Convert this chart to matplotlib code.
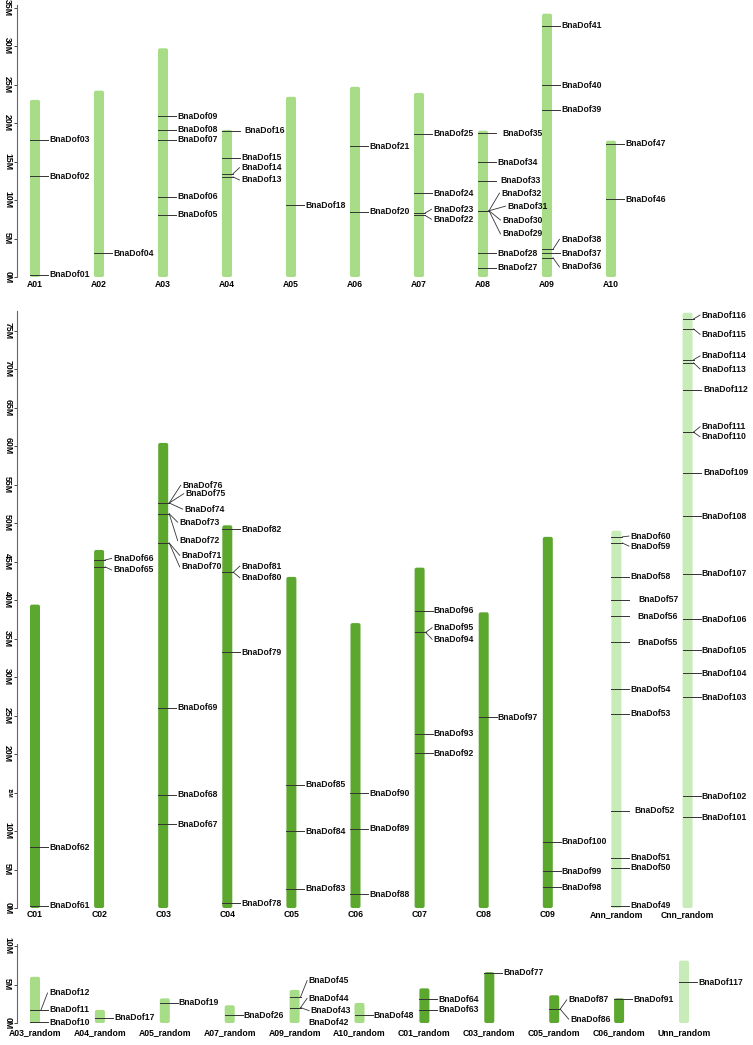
import numpy as np
import matplotlib.pyplot as plt
from matplotlib.patches import FancyBboxPatch

plt.rcParams['font.family'] = ['Liberation Sans', 'DejaVu Sans']

# ---------------- data (positions in Mb) ----------------
top_chroms = ["A01", "A02", "A03", "A04", "A05", "A06", "A07", "A08", "A09", "A10"]
top_lengths = [23.0, 24.2, 29.7, 19.1, 23.4, 24.7, 23.9, 19.0, 34.2, 17.7]
top_genes = [
    ("BnaDof01", "A01", 0.3), ("BnaDof02", "A01", 13.1), ("BnaDof03", "A01", 17.8),
    ("BnaDof04", "A02", 3.1),
    ("BnaDof05", "A03", 8.1), ("BnaDof06", "A03", 10.4), ("BnaDof07", "A03", 17.8),
    ("BnaDof08", "A03", 19.1), ("BnaDof09", "A03", 20.9),
    ("BnaDof13", "A04", 13.0), ("BnaDof14", "A04", 13.4), ("BnaDof15", "A04", 15.5),
    ("BnaDof16", "A04", 19.0),
    ("BnaDof18", "A05", 9.35),
    ("BnaDof20", "A06", 8.5), ("BnaDof21", "A06", 17.0),
    ("BnaDof22", "A07", 8.0), ("BnaDof23", "A07", 8.3), ("BnaDof24", "A07", 10.9),
    ("BnaDof25", "A07", 18.6),
    ("BnaDof27", "A08", 1.2), ("BnaDof28", "A08", 3.1), ("BnaDof29", "A08", 8.6),
    ("BnaDof30", "A08", 8.6), ("BnaDof31", "A08", 8.6), ("BnaDof32", "A08", 8.6),
    ("BnaDof33", "A08", 12.5), ("BnaDof34", "A08", 14.9), ("BnaDof35", "A08", 18.7),
    ("BnaDof36", "A09", 2.5), ("BnaDof37", "A09", 3.1), ("BnaDof38", "A09", 3.6),
    ("BnaDof39", "A09", 21.7), ("BnaDof40", "A09", 24.9), ("BnaDof41", "A09", 32.6),
    ("BnaDof46", "A10", 10.1), ("BnaDof47", "A10", 17.3),
]

mid_chroms = ["C01", "C02", "C03", "C04", "C05", "C06", "C07", "C08", "C09",
              "Ann_random", "Cnn_random"]
mid_lengths = [39.4, 46.5, 60.4, 49.7, 43.0, 37.0, 44.2, 38.4, 48.2, 49.0, 77.3]
mid_genes = [
    ("BnaDof61", "C01", 0.3), ("BnaDof62", "C01", 7.9),
    ("BnaDof65", "C02", 44.3), ("BnaDof66", "C02", 45.2),
    ("BnaDof67", "C03", 10.9), ("BnaDof68", "C03", 14.7), ("BnaDof69", "C03", 26.0),
    ("BnaDof70", "C03", 47.4), ("BnaDof71", "C03", 47.4), ("BnaDof72", "C03", 51.2),
    ("BnaDof73", "C03", 51.2), ("BnaDof74", "C03", 52.6), ("BnaDof75", "C03", 52.6),
    ("BnaDof76", "C03", 52.6),
    ("BnaDof78", "C04", 0.6), ("BnaDof79", "C04", 33.2), ("BnaDof80", "C04", 43.6),
    ("BnaDof81", "C04", 43.6), ("BnaDof82", "C04", 49.2),
    ("BnaDof83", "C05", 2.5), ("BnaDof84", "C05", 10.0), ("BnaDof85", "C05", 16.0),
    ("BnaDof88", "C06", 1.8), ("BnaDof89", "C06", 10.3), ("BnaDof90", "C06", 14.9),
    ("BnaDof92", "C07", 20.1), ("BnaDof93", "C07", 22.6), ("BnaDof94", "C07", 35.8),
    ("BnaDof95", "C07", 35.8), ("BnaDof96", "C07", 38.6),
    ("BnaDof97", "C08", 24.8),
    ("BnaDof98", "C09", 2.7), ("BnaDof99", "C09", 4.8), ("BnaDof100", "C09", 8.6),
    ("BnaDof49", "Ann_random", 0.3), ("BnaDof50", "Ann_random", 5.2),
    ("BnaDof51", "Ann_random", 6.5), ("BnaDof52", "Ann_random", 12.6),
    ("BnaDof53", "Ann_random", 25.2), ("BnaDof54", "Ann_random", 28.4),
    ("BnaDof55", "Ann_random", 34.5), ("BnaDof56", "Ann_random", 37.9),
    ("BnaDof57", "Ann_random", 40.0), ("BnaDof58", "Ann_random", 43.0),
    ("BnaDof59", "Ann_random", 47.4), ("BnaDof60", "Ann_random", 48.2),
    ("BnaDof101", "Cnn_random", 11.8), ("BnaDof102", "Cnn_random", 14.5),
    ("BnaDof103", "Cnn_random", 27.4), ("BnaDof104", "Cnn_random", 30.5),
    ("BnaDof105", "Cnn_random", 33.5), ("BnaDof106", "Cnn_random", 37.5),
    ("BnaDof107", "Cnn_random", 43.4), ("BnaDof108", "Cnn_random", 50.9),
    ("BnaDof109", "Cnn_random", 56.5), ("BnaDof110", "Cnn_random", 61.8),
    ("BnaDof111", "Cnn_random", 61.8), ("BnaDof112", "Cnn_random", 67.3),
    ("BnaDof113", "Cnn_random", 70.8), ("BnaDof114", "Cnn_random", 71.2),
    ("BnaDof115", "Cnn_random", 75.2), ("BnaDof116", "Cnn_random", 76.5),
]

bot_chroms = ["A03_random", "A04_random", "A05_random", "A07_random", "A09_random",
              "A10_random", "C01_random", "C03_random", "C05_random", "C06_random",
              "Unn_random"]
bot_lengths = [6.0, 1.7, 3.2, 2.3, 4.3, 2.6, 4.5, 6.6, 3.6, 3.2, 8.1]
bot_genes = [
    ("BnaDof10", "A03_random", 0.1), ("BnaDof11", "A03_random", 1.7),
    ("BnaDof12", "A03_random", 1.7),
    ("BnaDof17", "A04_random", 0.7),
    ("BnaDof19", "A05_random", 2.6),
    ("BnaDof26", "A07_random", 1.0),
    ("BnaDof42", "A09_random", 0.05), ("BnaDof43", "A09_random", 2.0),
    ("BnaDof44", "A09_random", 2.0), ("BnaDof45", "A09_random", 3.4),
    ("BnaDof48", "A10_random", 1.0),
    ("BnaDof63", "C01_random", 1.7), ("BnaDof64", "C01_random", 3.1),
    ("BnaDof77", "C03_random", 6.5),
    ("BnaDof86", "C05_random", 1.8), ("BnaDof87", "C05_random", 1.8),
    ("BnaDof91", "C06_random", 3.1),
    ("BnaDof117", "Unn_random", 5.3),
]

# ---------------- label layout (spreading crowded labels) ----------------
label_y = {
    "BnaDof13": 12.6, "BnaDof14": 14.2, "BnaDof22": 7.5, "BnaDof23": 8.8,
    "BnaDof29": 5.6, "BnaDof30": 7.4, "BnaDof31": 9.2, "BnaDof32": 10.9,
    "BnaDof36": 1.3, "BnaDof37": 3.1, "BnaDof38": 4.9,
    "BnaDof65": 43.9, "BnaDof66": 45.4, "BnaDof59": 47.0, "BnaDof60": 48.3,
    "BnaDof70": 44.3, "BnaDof71": 45.8, "BnaDof72": 47.7, "BnaDof73": 50.1,
    "BnaDof74": 51.8, "BnaDof75": 53.8, "BnaDof76": 54.9,
    "BnaDof80": 42.9, "BnaDof81": 44.4, "BnaDof94": 34.9, "BnaDof95": 36.4,
    "BnaDof110": 61.2, "BnaDof111": 62.5, "BnaDof113": 70.0, "BnaDof114": 71.7,
    "BnaDof115": 74.5, "BnaDof116": 77.0,
    "BnaDof12": 3.9, "BnaDof43": 1.6, "BnaDof44": 3.2, "BnaDof45": 5.5,
    "BnaDof86": 0.5, "BnaDof87": 3.0,
}
label_dx = {
    "BnaDof16": 17, "BnaDof29": 19, "BnaDof30": 19, "BnaDof31": 24, "BnaDof32": 18,
    "BnaDof33": 17, "BnaDof35": 19,
    "BnaDof70": 18, "BnaDof71": 18, "BnaDof72": 16, "BnaDof73": 16, "BnaDof74": 21,
    "BnaDof75": 22, "BnaDof76": 19,
    "BnaDof52": 18, "BnaDof55": 21, "BnaDof56": 21, "BnaDof57": 22,
    "BnaDof109": 16, "BnaDof112": 16, "BnaDof43": 16, "BnaDof86": 16,
}

FIG_W, FIG_H = 753, 1045
PX_PER_M = 7.7
CHR_W_PX = 10
A_COL, C_COL, R_COL = "#a6dd86", "#5ca72d", "#c8ecb7"
LINE_COL = "#333333"

fig = plt.figure(figsize=(FIG_W / 100, FIG_H / 100), dpi=100)


def chrom_color(name):
    if name.startswith(("Ann", "Cnn", "Unn")):
        return R_COL
    return A_COL if name.startswith("A") else C_COL


def draw_panel(chroms, lengths, genes, y0_px, ytop, sp, ticks, xpad,
               pos=None, spine_px=17, x0_px=35):
    ax = fig.add_axes([spine_px / FIG_W, (FIG_H - y0_px) / FIG_H,
                       (FIG_W - spine_px) / FIG_W, ytop * PX_PER_M / FIG_H])
    ax.set_xlim(-(x0_px - spine_px) / sp, (FIG_W - x0_px) / sp)
    ax.set_ylim(0, ytop)
    if pos is None:
        pos = np.arange(len(chroms), dtype=float)
    xmap = dict(zip(chroms, pos))
    hw = CHR_W_PX / 2 / sp
    r = 2.0 / sp
    for x, L, name in zip(pos, lengths, chroms):
        ax.add_patch(FancyBboxPatch((x - hw, 0), 2 * hw, L,
                                    boxstyle=f"round,pad=0,rounding_size={r}",
                                    mutation_aspect=(2.0 / PX_PER_M) / r,
                                    fc=chrom_color(name), ec="none", zorder=1))
    for g, c, y in genes:
        x = xmap[c]
        ly = label_y.get(g, y)
        dx = label_dx.get(g, 14) / sp
        if ly == y:
            ax.plot([x - hw, x + 13 / sp], [y, y], color=LINE_COL, lw=0.7, zorder=2)
        else:
            ax.plot([x - hw, x + hw + 1 / sp], [y, y], color=LINE_COL, lw=0.7, zorder=2)
            ax.plot([x + hw + 1 / sp, x + dx - 1.5 / sp], [y, ly], color=LINE_COL,
                    lw=0.6, zorder=2)
        ax.text(x + dx, ly, g, ha="left", va="center", fontsize=6.2,
                fontweight="bold", color="#111111")

    ax.set_xticks(pos, chroms)
    ax.tick_params(axis="x", length=0, pad=xpad, labelsize=6.2)
    for t in ax.get_xticklabels():
        t.set_fontweight("bold")
    ax.set_yticks(ticks, [f"{t}M" for t in ticks])
    ax.tick_params(axis="y", length=2.5, width=0.7, pad=1, color="#444444")
    for t in ax.get_yticklabels():
        t.set_rotation(-90)
        t.set_va("center")
        t.set_fontsize(6.3)
        t.set_fontweight("bold")
        t.set_family(["Liberation Sans Narrow", "Liberation Sans"])
    for s in ["top", "right", "bottom"]:
        ax.spines[s].set_visible(False)
    ax.spines["left"].set_color("#666666")
    ax.spines["left"].set_linewidth(0.8)
    return ax


draw_panel(top_chroms, top_lengths, top_genes, 277, 35.3, 64.0,
           list(range(0, 36, 5)), 2.5)

mid_pos = np.r_[np.arange(9), 9.07, 10.18]
ax_mid = draw_panel(mid_chroms, mid_lengths, mid_genes, 908, 77.5, 64.1,
                    list(range(0, 76, 5)), 1.5, pos=mid_pos)
ax_mid.get_yticklabels()[3].set_fontsize(3.5)

draw_panel(bot_chroms, bot_lengths, bot_genes, 1023, 10.2, 64.9, [0, 5, 10], 4)

plt.savefig("out.png", dpi=100)
